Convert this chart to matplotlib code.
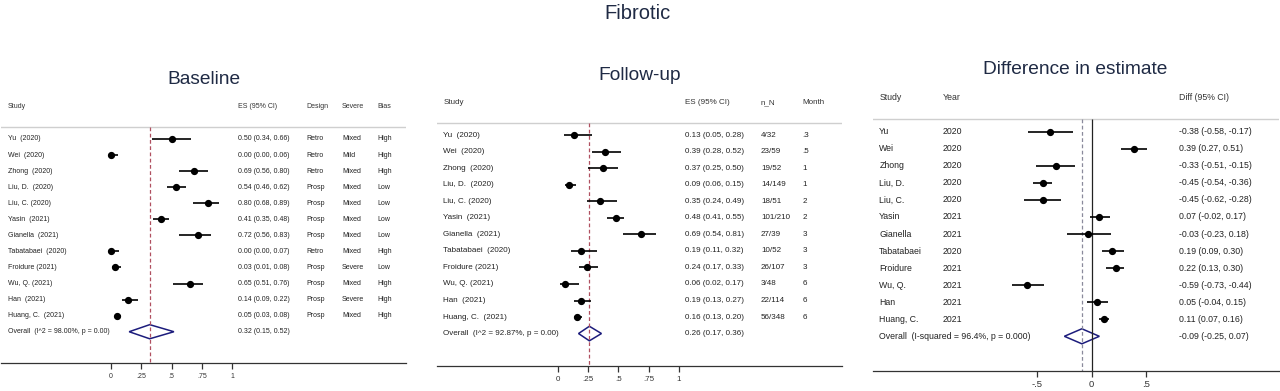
import numpy as np
import matplotlib.pyplot as plt

plt.rcParams['font.family'] = ['Liberation Sans', 'DejaVu Sans']

W, H = 1280, 391

# ---- data -------------------------------------------------------------
base_study = ["Yu  (2020)", "Wei  (2020)", "Zhong  (2020)", "Liu, D.  (2020)",
              "Liu, C. (2020)", "Yasin  (2021)", "Gianella  (2021)",
              "Tabatabaei  (2020)", "Froidure (2021)", "Wu, Q. (2021)",
              "Han  (2021)", "Huang, C.  (2021)"]
base_es = [0.50, 0.00, 0.69, 0.54, 0.80, 0.41, 0.72, 0.00, 0.03, 0.65, 0.14, 0.05]
base_lo = [0.34, 0.00, 0.56, 0.46, 0.68, 0.35, 0.56, 0.00, 0.01, 0.51, 0.09, 0.03]
base_hi = [0.66, 0.06, 0.80, 0.62, 0.89, 0.48, 0.83, 0.07, 0.08, 0.76, 0.22, 0.08]
base_design = ["Retro", "Retro", "Retro", "Prosp", "Prosp", "Prosp", "Prosp",
               "Retro", "Prosp", "Prosp", "Prosp", "Prosp"]
base_severe = ["Mixed", "Mild", "Mixed", "Mixed", "Mixed", "Mixed", "Mixed",
               "Mixed", "Severe", "Mixed", "Severe", "Mixed"]
base_bias = ["High", "High", "High", "Low", "Low", "Low", "Low", "High", "Low",
             "High", "High", "High"]
base_overall = (0.32, 0.15, 0.52)
base_overall_lab = "Overall  (I^2 = 98.00%, p = 0.00)"

fu_study = base_study
fu_es = [0.13, 0.39, 0.37, 0.09, 0.35, 0.48, 0.69, 0.19, 0.24, 0.06, 0.19, 0.16]
fu_lo = [0.05, 0.28, 0.25, 0.06, 0.24, 0.41, 0.54, 0.11, 0.17, 0.02, 0.13, 0.13]
fu_hi = [0.28, 0.52, 0.50, 0.15, 0.49, 0.55, 0.81, 0.32, 0.33, 0.17, 0.27, 0.20]
fu_nN = ["4/32", "23/59", "19/52", "14/149", "18/51", "101/210", "27/39",
         "10/52", "26/107", "3/48", "22/114", "56/348"]
fu_month = [".3", ".5", "1", "1", "2", "2", "3", "3", "3", "6", "6", "6"]
fu_overall = (0.26, 0.17, 0.36)
fu_overall_lab = "Overall  (I^2 = 92.87%, p = 0.00)"

diff_study = ["Yu", "Wei", "Zhong", "Liu, D.", "Liu, C.", "Yasin", "Gianella",
              "Tabatabaei", "Froidure", "Wu, Q.", "Han", "Huang, C."]
diff_year = ["2020", "2020", "2020", "2020", "2020", "2021", "2021", "2020",
             "2021", "2021", "2021", "2021"]
diff_es = [-0.38, 0.39, -0.33, -0.45, -0.45, 0.07, -0.03, 0.19, 0.22, -0.59, 0.05, 0.11]
diff_lo = [-0.58, 0.27, -0.51, -0.54, -0.62, -0.02, -0.23, 0.09, 0.13, -0.73, -0.04, 0.07]
diff_hi = [-0.17, 0.51, -0.15, -0.36, -0.28, 0.17, 0.18, 0.30, 0.30, -0.44, 0.15, 0.16]
diff_overall = (-0.09, -0.25, 0.07)
diff_overall_lab = "Overall  (I-squared = 96.4%, p = 0.000)"


def ci_text(e, l, h):
    return f"{e:.2f} ({l:.2f}, {h:.2f})"


def forest(px, es, lo, hi, overall, overall_lab, cols, ticks, ticklabels,
           fs, refcol, tick_fs=None, zero_line=False):
    # px: pixel layout of the panel
    left, right, top, bottom = px['left'], px['right'], px['top'], px['bottom']
    x0, unit, r0, step = px['x0'], px['unit'], px['row0'], px['step']
    ax = fig.add_axes([left / W, 1 - bottom / H, (right - left) / W, (bottom - top) / H])
    ax.set_xlim((left - x0) / unit, (right - x0) / unit)
    ax.set_ylim((bottom - r0) / step, (top - r0) / step)
    to_x = lambda p: (p - x0) / unit
    to_y = lambda p: (p - r0) / step
    y_head = to_y(px['head'])
    y_sep = to_y(px['sep'])
    y_bot = (bottom - r0) / step
    n = len(es)
    rows = np.arange(n)

    for s in ['top', 'right', 'left']:
        ax.spines[s].set_visible(False)
    ax.spines['bottom'].set_color('#333333')
    ax.spines['bottom'].set_linewidth(0.9)
    ax.set_yticks([])
    ax.set_xticks(ticks)
    ax.set_xticklabels(ticklabels)
    ax.tick_params(axis='x', length=4, width=0.9, color='#333333', pad=3,
                   labelsize=tick_fs or fs, labelcolor='#333333')

    ax.axhline(y_sep, color='#cfcfcf', lw=1.0)

    if zero_line:
        ax.vlines(0, y_sep, y_bot, color='#222222', lw=0.9)
    ax.vlines(overall[0], y_sep, y_bot, color=refcol, lw=0.9,
              linestyles=(0, (3, 2)))

    ax.hlines(rows, lo, hi, color='black', lw=1.2)
    ax.plot(es, rows, 'o', color='black', ms=4.2)

    e, l, h = overall
    yo = n
    ax.fill([l, e, h, e, l], [yo, yo - 0.44, yo, yo + 0.44, yo],
            facecolor='none', edgecolor='#1c1c7c', lw=1.1)

    # text columns
    for name, xpx, header, values in cols:
        xx = to_x(xpx)
        ax.text(xx, y_head, header, fontsize=fs, color='#333333',
                ha='left', va='center')
        for i, v in enumerate(values):
            ax.text(xx, i, v, fontsize=fs, color='#222222', ha='left', va='center')
    ax.text(to_x(cols[0][1]), yo, overall_lab, fontsize=fs, color='#222222',
            ha='left', va='center')
    return ax


fig = plt.figure(figsize=(W / 100, H / 100), dpi=100)

fig.text(637 / W, 1 - 19 / H, "Fibrotic", fontsize=14.5, color='#1f2a44',
         ha='center', va='baseline')

# Baseline
p1 = dict(left=1, right=406, top=90, bottom=363.3, x0=111, unit=121,
          row0=139, step=16.06, head=107, sep=126.7)
es_str = [ci_text(*t) for t in zip(base_es, base_lo, base_hi)]
cols1 = [("study", 8, "Study", base_study),
         ("es", 238, "ES (95% CI)", es_str + [ci_text(*base_overall)]),
         ("design", 306, "Design", base_design),
         ("severe", 342, "Severe", base_severe),
         ("bias", 377, "Bias", base_bias)]
forest(p1, base_es, base_lo, base_hi, base_overall, base_overall_lab, cols1,
       [0, 0.25, 0.5, 0.75, 1], ["0", ".25", ".5", ".75", "1"], 5.0, '#b05060')
fig.text(204 / W, 1 - 84 / H, "Baseline", fontsize=13.8, color='#1f2a44',
         ha='center', va='baseline')

# Follow-up
p2 = dict(left=437, right=842, top=90, bottom=366, x0=558, unit=120.7,
          row0=135.3, step=16.52, head=102.3, sep=122.7)
es_str = [ci_text(*t) for t in zip(fu_es, fu_lo, fu_hi)]
cols2 = [("study", 443.3, "Study", fu_study),
         ("es", 685, "ES (95% CI)", es_str + [ci_text(*fu_overall)]),
         ("nN", 761, "n_N", fu_nN),
         ("month", 802.7, "Month", fu_month)]
forest(p2, fu_es, fu_lo, fu_hi, fu_overall, fu_overall_lab, cols2,
       [0, 0.25, 0.5, 0.75, 1], ["0", ".25", ".5", ".75", "1"], 5.8, '#b05060')
fig.text(640 / W, 1 - 80 / H, "Follow-up", fontsize=13.8, color='#1f2a44',
         ha='center', va='baseline')

# Difference in estimate
p3 = dict(left=873, right=1279, top=85, bottom=370.7, x0=1091.7, unit=109.3,
          row0=131.7, step=17.05, head=97.7, sep=119.3)
es_str = [ci_text(*t) for t in zip(diff_es, diff_lo, diff_hi)]
cols3 = [("study", 879.3, "Study", diff_study),
         ("year", 942.7, "Year", diff_year),
         ("diff", 1179, "Diff (95% CI)", es_str + [ci_text(*diff_overall)])]
forest(p3, diff_es, diff_lo, diff_hi, diff_overall, diff_overall_lab, cols3,
       [-0.5, 0, 0.5], ["-.5", "0", ".5"], 6.3, '#8a8a9c', tick_fs=6.8,
       zero_line=True)
fig.text(1075 / W, 1 - 74 / H, "Difference in estimate", fontsize=13.8,
         color='#1f2a44', ha='center', va='baseline')

fig.savefig("out.png", dpi=100)
